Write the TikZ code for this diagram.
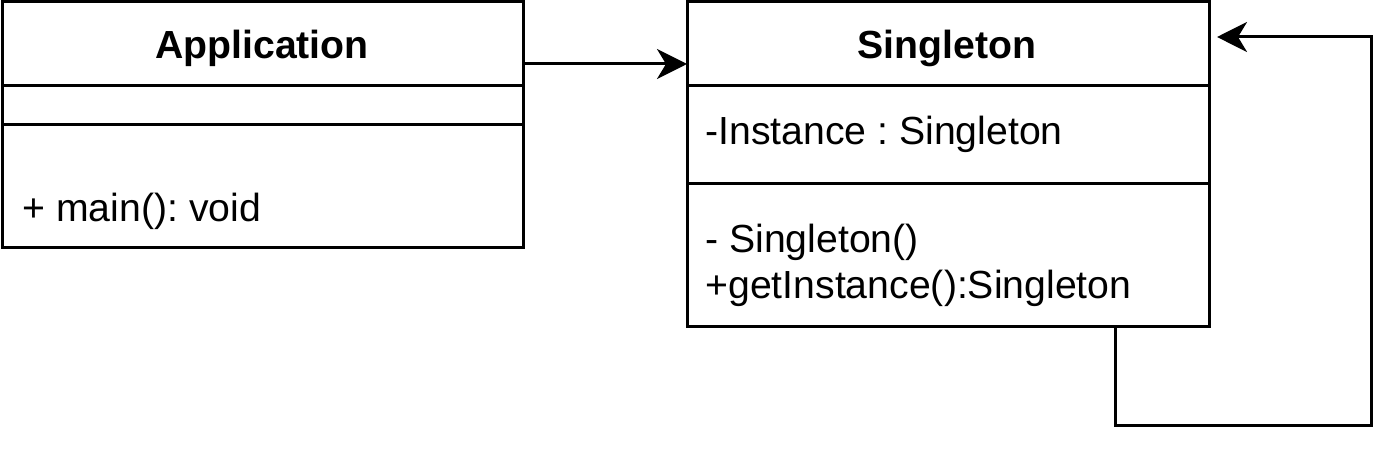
\documentclass[tikz,border=0pt]{standalone}
\usepackage{fontspec}
\setmainfont{Liberation Sans}
\usetikzlibrary{positioning,arrows.meta}
\frenchspacing

\tikzset{
  umlbox/.style={draw, line width=1.5pt, rectangle, outer sep=0pt, inner sep=0pt, anchor=north},
  member/.style={anchor=base west, inner sep=0pt},
  conn/.style={line width=1.5pt, -{Stealth[length=15pt,width=15pt,inset=4.5pt]}}
}

\begin{document}
\begin{tikzpicture}[x=0.5pt, y=-0.5pt, font=\fontsize{19.6pt}{23.5pt}\selectfont]
\useasboundingbox (0,0) rectangle (1400,453);
% Application class
\node[umlbox, minimum width=260.5pt, minimum height=42pt, anchor=north west] (apphead) at (2,2) {};
\node[umlbox, minimum width=260.5pt, minimum height=19.5pt, below=0pt of apphead] (appattr) {};
\node[umlbox, minimum width=260.5pt, minimum height=61.5pt, below=0pt of appattr] (appmeth) {};
\node[font=\fontsize{19.6pt}{23.5pt}\selectfont\bfseries, anchor=base] (apptitle) at (262,59) {Application};
\node[member] (appmain) at (22,222) {+ main(): void};
% Singleton class
\node[umlbox, minimum width=261pt, minimum height=42pt, anchor=north west] (singhead) at (687,2) {};
\node[umlbox, minimum width=261pt, minimum height=49pt, below=0pt of singhead] (singattr) {};
\node[umlbox, minimum width=261pt, minimum height=71.5pt, below=0pt of singattr] (singmeth) {};
\node[font=\fontsize{19.6pt}{23.5pt}\selectfont\bfseries, anchor=base] (singtitle) at (947,59) {Singleton};
\node[member] (singinst) at (705,145) {-Instance : Singleton};
\node[member] (singctor) at (705,253) {- Singleton()};
\node[member] (singget) at (705,299) {+getInstance():Singleton};
% connectors
\draw[conn] ([yshift=-10pt]apphead.east) -- ([yshift=-10pt]singhead.west);
\coordinate (loopc) at (1371,425);
\draw[conn] ([xshift=83.5pt]singmeth.south) |- (loopc) |- ([xshift=4pt,yshift=3.5pt]singhead.east);
\end{tikzpicture}
\end{document}
